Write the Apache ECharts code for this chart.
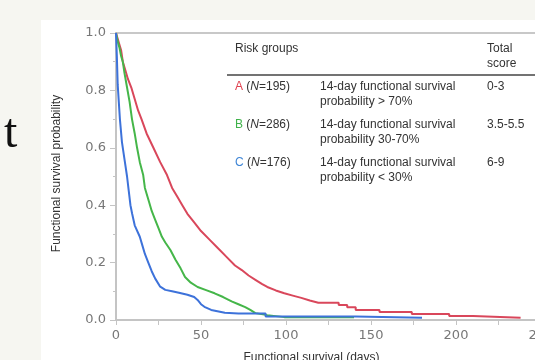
<!DOCTYPE html>
<html>
<head>
<meta charset="utf-8">
<script src="https://cdn.jsdelivr.net/npm/echarts@6/dist/echarts.min.js"></script>
<style>
  html, body { margin: 0; padding: 0; background: #f6f6f1; }
  #chart { width: 535px; height: 360px; }
</style>
</head>
<body>
<div id="chart"></div>
<script>
// Kaplan-Meier curves, values (days, survival probability)
// repeated days mark the visible steps in the tails
const groupADays = [0, 1, 2, 3, 4, 5.5, 7, 9, 11, 13, 15, 18, 22, 26, 30, 33, 36, 39, 42, 46, 50, 55, 60, 65, 70, 74, 78, 82, 86, 89, 94, 99, 104, 109, 114, 119, 131, 131, 136, 136, 141, 141, 155, 155, 174, 174, 196, 196, 210, 210, 238];
const groupASurv = [1, 0.98, 0.96, 0.94, 0.9, 0.87, 0.84, 0.81, 0.77, 0.73, 0.7, 0.65, 0.6, 0.55, 0.505, 0.46, 0.43, 0.4, 0.37, 0.34, 0.31, 0.28, 0.25, 0.22, 0.19, 0.174, 0.155, 0.14, 0.125, 0.115, 0.103, 0.093, 0.085, 0.077, 0.068, 0.06, 0.06, 0.052, 0.052, 0.044, 0.044, 0.035, 0.035, 0.028, 0.028, 0.021, 0.021, 0.014, 0.014, 0.008, 0.008];

const groupBDays = [0, 1, 2, 3, 4, 5, 6.5, 8, 9.4, 11, 12.4, 14, 16, 17, 19.5, 21, 23, 25, 27, 29, 32, 35, 38, 40.6, 44, 48, 53, 58, 63, 68, 72, 76, 79, 82, 89, 99, 140];
const groupBSurv = [1, 0.97, 0.95, 0.92, 0.9, 0.86, 0.81, 0.76, 0.7, 0.65, 0.6, 0.55, 0.505, 0.46, 0.41, 0.38, 0.35, 0.32, 0.29, 0.27, 0.244, 0.21, 0.18, 0.15, 0.13, 0.115, 0.104, 0.093, 0.08, 0.065, 0.055, 0.045, 0.035, 0.024, 0.017, 0.01, 0.01];

const groupCDays = [0, 0.5, 1, 2.3, 3.5, 5, 6.5, 7.5, 8.5, 9.5, 11, 14, 15.5, 17, 19, 21, 23, 26, 29, 33, 37, 42, 46, 48, 50, 52, 56, 64, 72, 88, 88, 141, 141, 180];
const groupCSurv = [1, 0.92, 0.82, 0.7, 0.62, 0.56, 0.5, 0.45, 0.4, 0.37, 0.33, 0.29, 0.26, 0.23, 0.2, 0.17, 0.145, 0.116, 0.105, 0.1, 0.095, 0.088, 0.08, 0.07, 0.055, 0.046, 0.035, 0.025, 0.023, 0.023, 0.012, 0.012, 0.008, 0.008];

const yTicks = [0, 0.2, 0.4, 0.6, 0.8, 1.0];
const xTickLabels = [0, 50, 100, 150, 200, 250];

// legend table
const groupLetters = ['A', 'B', 'C'];
const groupN = ['195', '286', '176'];
const groupDesc = [
  ['14-day functional survival', 'probability > 70%'],
  ['14-day functional survival', 'probability 30-70%'],
  ['14-day functional survival', 'probability < 30%']
];
const groupScores = ['0-3', '3.5-5.5', '6-9'];
const groupColors = ['#d9475b', '#45b649', '#3d72da'];
const letterColors = ['#e0404e', '#3fb24a', '#3f86d6'];

const zip = (xs, ys) => xs.map((x, i) => [x, ys[i]]);

const chart = echarts.init(document.getElementById('chart'));

const tableFont = '12px "Liberation Sans", Arial, sans-serif';
const graphics = [
  { type: 'rect', shape: { x: 41, y: 20, width: 500, height: 345 }, style: { fill: '#ffffff' }, z: -10 },
  { type: 'text', x: 4, y: 110, style: { text: 't', font: '48px "Liberation Serif", serif', fill: '#111' } },
  { type: 'text', x: 235, y: 41, style: { text: 'Risk groups', font: tableFont, fill: '#333', lineHeight: 15 } },
  { type: 'text', x: 487, y: 41, style: { text: 'Total\nscore', font: tableFont, fill: '#333', lineHeight: 15 } },
  { type: 'line', shape: { x1: 227, y1: 75, x2: 540, y2: 75 }, style: { stroke: '#444', lineWidth: 1.5 } }
];
const rowY = [79, 117, 155];
groupLetters.forEach((g, i) => {
  graphics.push({
    type: 'text', x: 235, y: rowY[i],
    style: {
      text: '{l|' + g + '} ({i|N}=' + groupN[i] + ')',
      font: tableFont, fill: '#333', lineHeight: 15,
      rich: {
        l: { fill: letterColors[i], font: tableFont, lineHeight: 15 },
        i: { font: 'italic 12px "Liberation Sans", Arial, sans-serif', fill: '#333', lineHeight: 15 }
      }
    }
  });
  graphics.push({ type: 'text', x: 320, y: rowY[i], style: { text: groupDesc[i].join('\n'), font: tableFont, fill: '#333', lineHeight: 15 } });
  graphics.push({ type: 'text', x: 487, y: rowY[i], style: { text: groupScores[i], font: tableFont, fill: '#333', lineHeight: 15 } });
});

const axisColor = '#c4c4c4';
const labelStyle = { color: '#777', fontSize: 13, fontFamily: 'DejaVu Sans' };

chart.setOption({
  animation: false,
  backgroundColor: 'transparent',
  graphic: graphics,
  grid: {
    left: 116, top: 33, width: 425, height: 287,
    outerBoundsMode: 'none',
    show: true, borderColor: '#c8c8c8', borderWidth: 2, backgroundColor: 'transparent'
  },
  xAxis: {
    type: 'value', min: 0, max: 250, interval: 25,
    name: 'Functional survival (days)',
    nameLocation: 'middle', nameGap: 32,
    nameTextStyle: { color: '#333', fontSize: 12, fontFamily: 'Liberation Sans', padding: [0, 34, 0, 0] },
    axisLine: { lineStyle: { color: axisColor, width: 2 } },
    axisTick: { length: 5, lineStyle: { color: axisColor } },
    axisLabel: Object.assign({}, labelStyle, {
      margin: 9,
      formatter: v => (xTickLabels.indexOf(v) >= 0 ? String(v) : '')
    }),
    splitLine: { show: false }
  },
  yAxis: {
    type: 'value', min: 0, max: 1, interval: 0.2,
    name: 'Functional survival probability',
    nameLocation: 'middle', nameGap: 53,
    nameTextStyle: { color: '#333', fontSize: 12, fontFamily: 'Liberation Sans', padding: [0, 0, 0, 6] },
    axisLine: { show: true, lineStyle: { color: axisColor, width: 2 } },
    axisTick: { show: true, length: 6, lineStyle: { color: axisColor } },
    minorTick: { show: true, splitNumber: 2, length: 3, lineStyle: { color: axisColor } },
    axisLabel: Object.assign({}, labelStyle, {
      margin: 10,
      formatter: v => (yTicks.some(t => Math.abs(t - v) < 1e-9) ? v.toFixed(1) : '')
    }),
    splitLine: { show: false }
  },
  series: [
    { name: 'A', type: 'line', symbol: 'none', data: zip(groupADays, groupASurv), lineStyle: { color: groupColors[0], width: 2 } },
    { name: 'B', type: 'line', symbol: 'none', data: zip(groupBDays, groupBSurv), lineStyle: { color: groupColors[1], width: 2 } },
    { name: 'C', type: 'line', symbol: 'none', data: zip(groupCDays, groupCSurv), lineStyle: { color: groupColors[2], width: 2 } }
  ]
});
</script>
</body>
</html>
